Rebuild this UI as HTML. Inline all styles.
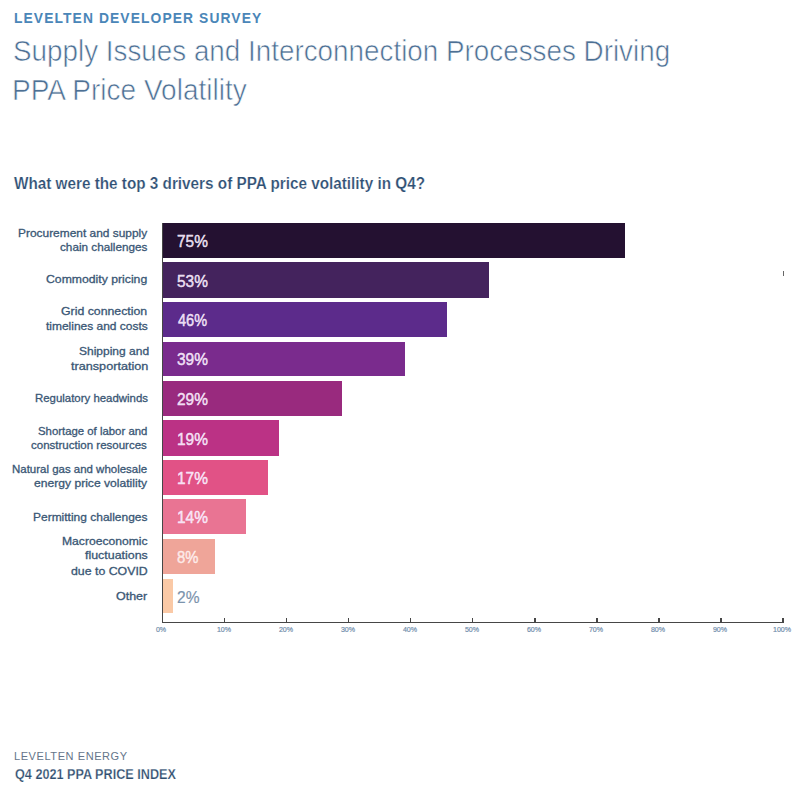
<!DOCTYPE html>
<html><head><meta charset="utf-8"><style>
html,body{margin:0;padding:0;background:#ffffff;}
body{width:800px;height:790px;position:relative;overflow:hidden;font-family:"Liberation Sans",sans-serif;}
.t{position:absolute;white-space:nowrap;line-height:1;transform-origin:0 50%;z-index:2;}
.tk{width:40px;text-align:center;font-size:7.6px;color:#6f8cab;transform:scaleX(0.93);transform-origin:50% 50%;-webkit-text-stroke:0.2px #6f8cab;}
.bar{position:absolute;}
.ax{position:absolute;background:#464646;}
</style></head><body>
<div class="t" id="h1" style="left:14.00px;top:10.15px;font-size:15px;color:#4a86b8;font-weight:bold;letter-spacing:1.2px;transform:scaleX(0.9213);">LEVELTEN DEVELOPER SURVEY</div>
<div class="t" id="t1" style="left:13.00px;top:37.05px;font-size:29px;color:#4d7094;font-weight:normal;letter-spacing:0px;transform:scaleX(0.9592);-webkit-text-stroke:0.6px #fff;">Supply Issues and Interconnection Processes Driving</div>
<div class="t" id="t2" style="left:12.00px;top:75.60px;font-size:29px;color:#4d7094;font-weight:normal;letter-spacing:0px;transform:scaleX(0.9670);-webkit-text-stroke:0.6px #fff;">PPA Price Volatility</div>
<div class="t" id="q" style="left:14.00px;top:175.90px;font-size:16px;color:#2f5074;font-weight:bold;letter-spacing:0px;transform:scaleX(0.9551);-webkit-text-stroke:0.2px #fff;">What were the top 3 drivers of PPA price volatility in Q4?</div>
<div class="t" id="f1" style="left:14.00px;top:751.23px;font-size:11.5px;color:#65758a;font-weight:normal;letter-spacing:0.6px;transform:scaleX(0.9576);">LEVELTEN ENERGY</div>
<div class="t" id="f2" style="left:15.00px;top:767.10px;font-size:14px;color:#2f4e6f;font-weight:bold;letter-spacing:0px;transform:scaleX(0.9031);-webkit-text-stroke:0.25px #fff;">Q4 2021 PPA PRICE INDEX</div>
<div class="t" id="l0" style="left:18.00px;top:227.95px;font-size:11px;color:#3a5775;font-weight:normal;letter-spacing:0px;transform:scaleX(1.0833);-webkit-text-stroke:0.3px #3a5775;">Procurement and supply</div>
<div class="t" id="l1" style="left:60.00px;top:242.35px;font-size:11px;color:#3a5775;font-weight:normal;letter-spacing:0px;transform:scaleX(1.0667);-webkit-text-stroke:0.3px #3a5775;">chain challenges</div>
<div class="t" id="l2" style="left:46.40px;top:274.35px;font-size:11px;color:#3a5775;font-weight:normal;letter-spacing:0px;transform:scaleX(1.1112);-webkit-text-stroke:0.3px #3a5775;">Commodity pricing</div>
<div class="t" id="l3" style="left:61.40px;top:306.15px;font-size:11px;color:#3a5775;font-weight:normal;letter-spacing:0px;transform:scaleX(1.1184);-webkit-text-stroke:0.3px #3a5775;">Grid connection</div>
<div class="t" id="l4" style="left:46.40px;top:320.85px;font-size:11px;color:#3a5775;font-weight:normal;letter-spacing:0px;transform:scaleX(1.0875);-webkit-text-stroke:0.3px #3a5775;">timelines and costs</div>
<div class="t" id="l5" style="left:78.60px;top:345.75px;font-size:11px;color:#3a5775;font-weight:normal;letter-spacing:0px;transform:scaleX(1.0910);-webkit-text-stroke:0.3px #3a5775;">Shipping and</div>
<div class="t" id="l6" style="left:71.00px;top:361.15px;font-size:11px;color:#3a5775;font-weight:normal;letter-spacing:0px;transform:scaleX(1.1493);-webkit-text-stroke:0.3px #3a5775;">transportation</div>
<div class="t" id="l7" style="left:35.20px;top:393.05px;font-size:11px;color:#3a5775;font-weight:normal;letter-spacing:0px;transform:scaleX(1.0382);-webkit-text-stroke:0.3px #3a5775;">Regulatory headwinds</div>
<div class="t" id="l8" style="left:38.00px;top:425.85px;font-size:11px;color:#3a5775;font-weight:normal;letter-spacing:0px;transform:scaleX(1.0335);-webkit-text-stroke:0.3px #3a5775;">Shortage of labor and</div>
<div class="t" id="l9" style="left:31.40px;top:439.85px;font-size:11px;color:#3a5775;font-weight:normal;letter-spacing:0px;transform:scaleX(1.0470);-webkit-text-stroke:0.3px #3a5775;">construction resources</div>
<div class="t" id="l10" style="left:11.80px;top:464.35px;font-size:11px;color:#3a5775;font-weight:normal;letter-spacing:0px;transform:scaleX(1.0420);-webkit-text-stroke:0.3px #3a5775;">Natural gas and wholesale</div>
<div class="t" id="l11" style="left:33.80px;top:478.35px;font-size:11px;color:#3a5775;font-weight:normal;letter-spacing:0px;transform:scaleX(1.1010);-webkit-text-stroke:0.3px #3a5775;">energy price volatility</div>
<div class="t" id="l12" style="left:32.60px;top:512.45px;font-size:11px;color:#3a5775;font-weight:normal;letter-spacing:0px;transform:scaleX(1.0887);-webkit-text-stroke:0.3px #3a5775;">Permitting challenges</div>
<div class="t" id="l13" style="left:62.00px;top:535.75px;font-size:11px;color:#3a5775;font-weight:normal;letter-spacing:0px;transform:scaleX(1.1026);-webkit-text-stroke:0.3px #3a5775;">Macroeconomic</div>
<div class="t" id="l14" style="left:85.20px;top:550.45px;font-size:11px;color:#3a5775;font-weight:normal;letter-spacing:0px;transform:scaleX(1.1274);-webkit-text-stroke:0.3px #3a5775;">fluctuations</div>
<div class="t" id="l15" style="left:70.60px;top:566.15px;font-size:11px;color:#3a5775;font-weight:normal;letter-spacing:0px;transform:scaleX(1.1204);-webkit-text-stroke:0.3px #3a5775;">due to COVID</div>
<div class="t" id="l16" style="left:116.40px;top:590.75px;font-size:11px;color:#3a5775;font-weight:normal;letter-spacing:0px;transform:scaleX(1.1349);-webkit-text-stroke:0.3px #3a5775;">Other</div>
<div class="t" id="v0" style="left:177.20px;top:232.90px;font-size:17px;color:rgba(250,238,255,0.9);font-weight:normal;letter-spacing:0px;transform:scaleX(0.9085);-webkit-text-stroke:0.5px currentColor;">75%</div>
<div class="t" id="v1" style="left:177.20px;top:272.50px;font-size:17px;color:rgba(250,238,255,0.9);font-weight:normal;letter-spacing:0px;transform:scaleX(0.9085);-webkit-text-stroke:0.5px currentColor;">53%</div>
<div class="t" id="v2" style="left:178.20px;top:312.30px;font-size:17px;color:rgba(250,238,255,0.9);font-weight:normal;letter-spacing:0px;transform:scaleX(0.8543);-webkit-text-stroke:0.5px currentColor;">46%</div>
<div class="t" id="v3" style="left:177.20px;top:351.43px;font-size:17px;color:rgba(250,238,255,0.9);font-weight:normal;letter-spacing:0px;transform:scaleX(0.9085);-webkit-text-stroke:0.5px currentColor;">39%</div>
<div class="t" id="v4" style="left:177.20px;top:390.80px;font-size:17px;color:rgba(250,238,255,0.9);font-weight:normal;letter-spacing:0px;transform:scaleX(0.9085);-webkit-text-stroke:0.5px currentColor;">29%</div>
<div class="t" id="v5" style="left:177.20px;top:430.53px;font-size:17px;color:rgba(250,238,255,0.9);font-weight:normal;letter-spacing:0px;transform:scaleX(0.9095);-webkit-text-stroke:0.5px currentColor;">19%</div>
<div class="t" id="v6" style="left:177.20px;top:470.00px;font-size:17px;color:rgba(250,238,255,0.9);font-weight:normal;letter-spacing:0px;transform:scaleX(0.9095);-webkit-text-stroke:0.5px currentColor;">17%</div>
<div class="t" id="v7" style="left:177.20px;top:509.30px;font-size:17px;color:rgba(250,238,255,0.9);font-weight:normal;letter-spacing:0px;transform:scaleX(0.9095);-webkit-text-stroke:0.5px currentColor;">14%</div>
<div class="t" id="v8" style="left:177.20px;top:549.10px;font-size:17px;color:rgba(255,245,245,0.8);font-weight:normal;letter-spacing:0px;transform:scaleX(0.8738);-webkit-text-stroke:0.5px currentColor;">8%</div>
<div class="t" id="v9" style="left:177.20px;top:588.50px;font-size:17px;color:#7b93ac;font-weight:normal;letter-spacing:0px;transform:scaleX(0.9136);-webkit-text-stroke:0.2px currentColor;">2%</div>
<div class="bar" style="left:161.8px;top:222.50px;width:463.50px;height:35.70px;background:#241131"></div>
<div class="bar" style="left:161.8px;top:262.00px;width:326.95px;height:35.90px;background:#44235d"></div>
<div class="bar" style="left:161.8px;top:302.25px;width:285.70px;height:35.00px;background:#5c2b8b"></div>
<div class="bar" style="left:161.8px;top:341.50px;width:243.20px;height:34.75px;background:#7a2b8d"></div>
<div class="bar" style="left:161.8px;top:380.75px;width:179.95px;height:35.00px;background:#992a7e"></div>
<div class="bar" style="left:161.8px;top:420.20px;width:116.95px;height:35.55px;background:#bb3285"></div>
<div class="bar" style="left:161.8px;top:459.80px;width:106.20px;height:35.30px;background:#e15286"></div>
<div class="bar" style="left:161.8px;top:499.20px;width:84.60px;height:35.10px;background:#e97493"></div>
<div class="bar" style="left:161.8px;top:538.90px;width:53.60px;height:35.30px;background:#efa599"></div>
<div class="bar" style="left:161.8px;top:578.80px;width:10.80px;height:34.30px;background:#fac9a6"></div>
<div class="ax" style="left:161.6px;top:223px;width:1.3px;height:400.3px;"></div>
<div class="ax" style="left:161.6px;top:621.7px;width:622px;height:1.3px;"></div>
<div class="t tk" style="left:141.40px;top:625.84px;">0%</div>
<div class="ax" style="left:223.50px;top:618px;width:1.6px;height:4px;"></div>
<div class="t tk" style="left:203.50px;top:625.84px;">10%</div>
<div class="ax" style="left:285.60px;top:618px;width:1.6px;height:4px;"></div>
<div class="t tk" style="left:265.60px;top:625.84px;">20%</div>
<div class="ax" style="left:347.70px;top:618px;width:1.6px;height:4px;"></div>
<div class="t tk" style="left:327.70px;top:625.84px;">30%</div>
<div class="ax" style="left:409.80px;top:618px;width:1.6px;height:4px;"></div>
<div class="t tk" style="left:389.80px;top:625.84px;">40%</div>
<div class="ax" style="left:471.90px;top:618px;width:1.6px;height:4px;"></div>
<div class="t tk" style="left:451.90px;top:625.84px;">50%</div>
<div class="ax" style="left:534.00px;top:618px;width:1.6px;height:4px;"></div>
<div class="t tk" style="left:514.00px;top:625.84px;">60%</div>
<div class="ax" style="left:596.10px;top:618px;width:1.6px;height:4px;"></div>
<div class="t tk" style="left:576.10px;top:625.84px;">70%</div>
<div class="ax" style="left:658.20px;top:618px;width:1.6px;height:4px;"></div>
<div class="t tk" style="left:638.20px;top:625.84px;">80%</div>
<div class="ax" style="left:720.30px;top:618px;width:1.6px;height:4px;"></div>
<div class="t tk" style="left:700.30px;top:625.84px;">90%</div>
<div class="ax" style="left:782.40px;top:618px;width:1.6px;height:4px;"></div>
<div class="t tk" style="left:762.40px;top:625.84px;">100%</div>
<div class="ax" style="left:782.6px;top:270.5px;width:1.4px;height:5px;background:#666"></div>
</body></html>
